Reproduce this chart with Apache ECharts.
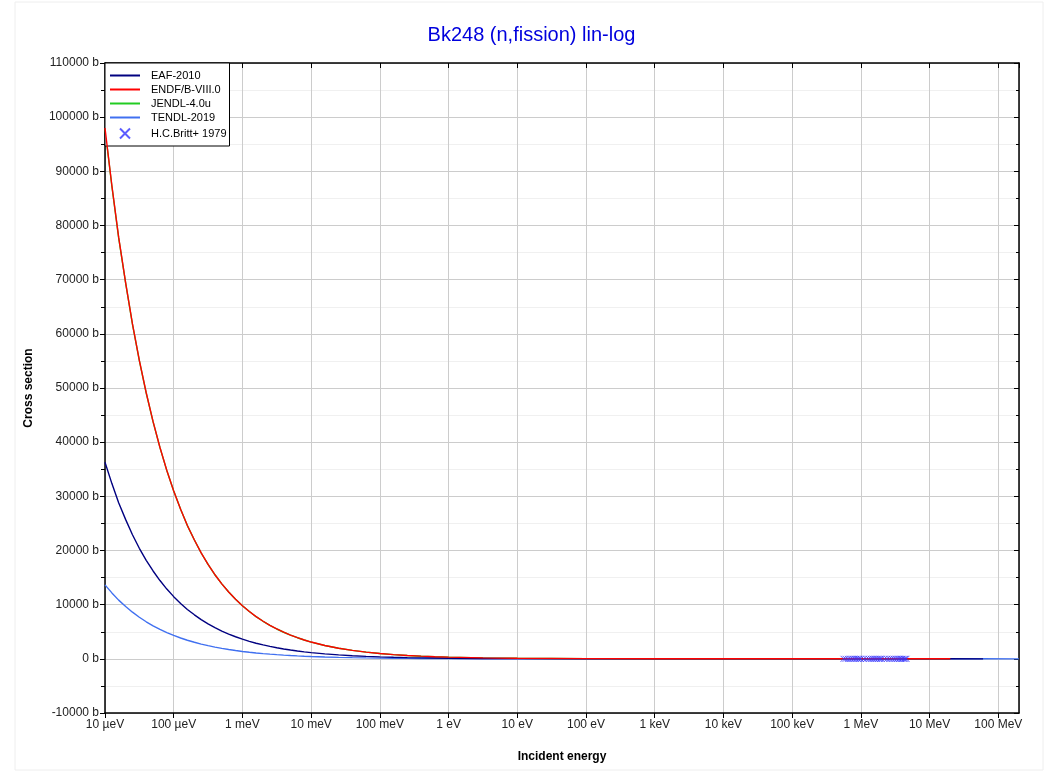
<!DOCTYPE html>
<html>
<head>
<meta charset="utf-8">
<script src="https://cdn.jsdelivr.net/npm/echarts@6/dist/echarts.min.js"></script>
<style>
html,body{margin:0;padding:0;background:#fff;}
#chart{width:1063px;height:773px;}
</style>
</head>
<body>
<div id="chart"></div>
<script>
// Energy grid in eV
var energies = [
  1e-5,1.26e-5,1.58e-5,2e-5,2.51e-5,3.16e-5,3.98e-5,5.01e-5,6.31e-5,7.94e-5,
  1e-4,1.26e-4,1.58e-4,2e-4,2.51e-4,3.16e-4,3.98e-4,5.01e-4,6.31e-4,7.94e-4,
  1e-3,1.26e-3,1.58e-3,2e-3,2.51e-3,3.16e-3,3.98e-3,5.01e-3,6.31e-3,7.94e-3,
  1e-2,1.58e-2,2.51e-2,3.98e-2,6.31e-2,0.1,0.158,0.251,0.398,0.631,
  1,3.16,10,100,1e3,1e4,1e5,1e6,1e7,2e7
];
// Cross sections in barns
var endfValues = [
  98000,87340,77840,69380,61830,55110,49120,43780,39020,34770,
  30990,27620,24620,21940,19550,17430,15530,13840,12340,11000,
  9800,8734,7784,6938,6183,5511,4912,4378,3902,3477,
  3099,2462,1955,1553,1234,980,778,619,491,390,
  310,174,98,31,10,4,2.5,1.8,2.2,2.0
];
var jendlValues = [
  97800,87200,77700,69300,61750,55050,49070,43740,38990,34750,
  30970,27600,24600,21930,19540,17420,15520,13830,12330,10990,
  9790,8726,7778,6932,6178,5507,4908,4375,3899,3475,
  3097,2460,1954,1552,1233,979,777,618,490,389,
  309,173,97,30,9.8,3.9,2.4,1.8,2.1,2.0
];
var eafValues = [
  36300,32350,28830,25700,22900,20410,18190,16220,14450,12880,
  11480,10230,9119,8127,7242,6455,5753,5127,4570,4073,
  3630,3235,2883,2570,2290,2041,1819,1622,1445,1288,
  1148,912,724,575,457,363,288,229,182,145,
  115,64,36,11.5,3.6,1.5,1.0,1.8,2.2,2.0
];
var tendlValues = [
  13650,12170,10840,9664,8612,7676,6842,6098,5435,4843,
  4317,3847,3429,3056,2723,2428,2163,1928,1719,1532,
  1365,1217,1084,966,861,768,684,610,543,484,
  432,343,272,216,172,137,108,86,68,54,
  43,24,13.7,4.3,1.4,0.8,1.0,1.8,2.1,2.0
];
var eafTailE = [6e7];
var eafTailV = [1.5];
var tendlTailE = [6e7, 2e8];
var tendlTailV = [1.6, 1.2];

var brittE = [5.6e5,6.0e5,6.5e5,7.0e5,7.5e5,8.0e5,8.5e5,9.0e5,9.5e5,1.0e6,1.1e6,1.2e6,1.3e6,1.4e6,1.5e6,1.6e6,1.7e6,1.8e6,1.9e6,2.0e6,2.2e6,2.4e6,2.6e6,2.8e6,3.0e6,3.2e6,3.4e6,3.6e6,3.8e6,4.0e6,4.2e6,4.4e6,4.6e6];
var brittV = [1.2,1.4,1.5,1.6,1.7,1.7,1.8,1.8,1.9,1.9,1.9,2.0,2.0,2.0,2.0,2.1,2.1,2.1,2.1,2.1,2.1,2.2,2.2,2.2,2.2,2.2,2.3,2.3,2.3,2.3,2.3,2.4,2.4];

var xTickLabels = ['10 µeV','100 µeV','1 meV','10 meV','100 meV','1 eV','10 eV','100 eV','1 keV','10 keV','100 keV','1 MeV','10 MeV','100 MeV'];
var seriesNames = ['EAF-2010','ENDF/B-VIII.0','JENDL-4.0u','TENDL-2019','H.C.Britt+ 1979'];
var seriesColors = ['#000080','#ff0000','#22cc22','#4070f0','#3333ff'];

function pairs(xs, ys){ var out=[]; for(var i=0;i<xs.length;i++){ out.push([xs[i], ys[i]]); } return out; }

var chart = echarts.init(document.getElementById('chart'), null, {renderer:'canvas'});
var font = 'Liberation Sans, Arial, sans-serif';

function xLabel(v){
  var l = Math.log10(v);
  var r = Math.round(l);
  if (Math.abs(l - r) > 1e-6) return '';
  var idx = r + 5;
  return (idx >= 0 && idx < xTickLabels.length) ? xTickLabels[idx] : '';
}

var lineIcon = 'path://M0,4L30,4L30,6L0,6Z';

var option = {
  animation: false,
  backgroundColor: '#fff',
  title: {
    text: 'Bk248 (n,fission) lin-log',
    left: 'center',
    top: 20,
    textStyle: {color: '#0000dd', fontFamily: font, fontSize: 20, fontWeight: 'normal'}
  },
  graphic: [{
    type: 'rect', shape: {x: 15, y: 2, width: 1028, height: 768},
    style: {fill: 'none', stroke: '#eeeeee', lineWidth: 1}, silent: true, z: -10
  }],
  legend: {
    orient: 'vertical',
    left: 105, top: 63,
    itemWidth: 30, itemHeight: 10, itemGap: 3,
    padding: [7, 3, 5, 5],
    backgroundColor: '#fff',
    borderColor: '#000', borderWidth: 1, borderRadius: 0,
    textStyle: {fontFamily: font, fontSize: 11, color: '#000', padding: [0, 0, 0, 6]},
    data: [
      {name: seriesNames[0], icon: lineIcon},
      {name: seriesNames[1], icon: lineIcon},
      {name: seriesNames[2], icon: lineIcon},
      {name: seriesNames[3], icon: lineIcon},
      {name: seriesNames[4]}
    ]
  },
  grid: {left: 105, top: 63, right: 44, bottom: 60, containLabel: false},
  xAxis: [{
    type: 'log', logBase: 10, min: 1e-5, max: 2e8, interval: 1,
    name: 'Incident energy', nameLocation: 'middle', nameGap: 38,
    nameTextStyle: {fontFamily: font, fontSize: 12, fontWeight: 'bold', color: '#000'},
    axisLine: {onZero: false, lineStyle: {color: '#000', width: 1.5}},
    axisTick: {show: true, inside: false, length: 5, lineStyle: {color: '#000'}},
    axisLabel: {fontFamily: font, fontSize: 12, color: '#222', margin: 6, formatter: xLabel, showMaxLabel: false, interval: 0},
    splitLine: {show: true, lineStyle: {color: '#cccccc', width: 1}},
    minorTick: {show: false},
    minorSplitLine: {show: false}
  }, {
    type: 'log', logBase: 10, min: 1e-5, max: 2e8, interval: 1, position: 'top',
    axisLine: {onZero: false, lineStyle: {color: '#000', width: 1.5}},
    axisTick: {show: true, inside: true, length: 5, lineStyle: {color: '#000'}},
    axisLabel: {show: false},
    splitLine: {show: false}
  }],
  yAxis: [{
    type: 'value', min: -10000, max: 110000, interval: 10000,
    name: 'Cross section', nameLocation: 'middle', nameGap: 70, nameRotate: 90,
    nameTextStyle: {fontFamily: font, fontSize: 12, fontWeight: 'bold', color: '#000'},
    axisLine: {show: true, onZero: false, lineStyle: {color: '#000', width: 1.5}},
    axisTick: {show: true, inside: false, length: 5, lineStyle: {color: '#000'}},
    axisLabel: {fontFamily: font, fontSize: 12, color: '#222', margin: 6, formatter: function(v){ return v + ' b'; }},
    splitLine: {show: true, lineStyle: {color: '#cccccc', width: 1}},
    minorTick: {show: true, splitNumber: 2, length: 4, lineStyle: {color: '#000'}},
    minorSplitLine: {show: true, lineStyle: {color: '#f0f0f0', width: 1}}
  }, {
    type: 'value', min: -10000, max: 110000, interval: 10000, position: 'right',
    axisLine: {show: true, onZero: false, lineStyle: {color: '#000', width: 1.5}},
    axisTick: {show: true, inside: true, length: 5, lineStyle: {color: '#000'}},
    axisLabel: {show: false},
    splitLine: {show: false},
    minorTick: {show: true, splitNumber: 2, length: 3, lineStyle: {color: '#000'}}
  }],
  series: [
    {name: seriesNames[0], type: 'line', showSymbol: false, symbol: 'none', z: 4,
     data: pairs(energies, eafValues).concat(pairs(eafTailE, eafTailV)),
     itemStyle: {color: seriesColors[0]}, lineStyle: {color: seriesColors[0], width: 1.4}},
    {name: seriesNames[1], type: 'line', showSymbol: false, symbol: 'none', z: 5,
     data: pairs(energies, endfValues),
     itemStyle: {color: seriesColors[1]}, lineStyle: {color: seriesColors[1], width: 1.4}},
    {name: seriesNames[2], type: 'line', showSymbol: false, symbol: 'none', z: 3,
     data: pairs(energies, jendlValues),
     itemStyle: {color: seriesColors[2]}, lineStyle: {color: seriesColors[2], width: 1.4}},
    {name: seriesNames[3], type: 'line', showSymbol: false, symbol: 'none', z: 2,
     data: pairs(energies, tendlValues).concat(pairs(tendlTailE, tendlTailV)),
     itemStyle: {color: seriesColors[3]}, lineStyle: {color: seriesColors[3], width: 1.4}},
    {name: seriesNames[4], type: 'scatter', z: 6,
     symbol: 'path://M0,0L10,10M10,0L0,10', symbolSize: 6,
     data: pairs(brittE, brittV),
     itemStyle: {color: 'none', borderColor: seriesColors[4], borderWidth: 1}}
  ]
};
chart.setOption(option);
</script>
</body>
</html>
